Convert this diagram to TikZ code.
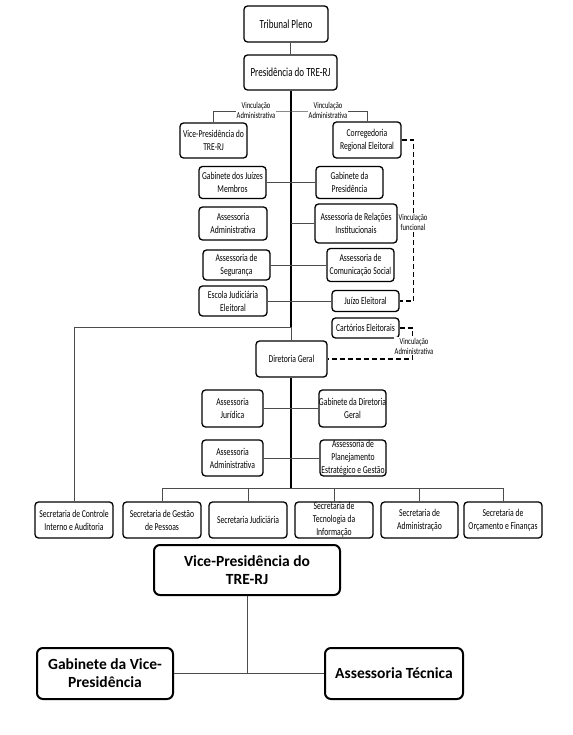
\documentclass[tikz,border=0pt]{standalone}
\usepackage{fontspec}
\setmainfont{Carlito}
\newfontfamily\narrowfont[FakeStretch=0.73]{Carlito}

\begin{document}
\begin{tikzpicture}[x=1pt,y=-1pt,
  unit/.style 2 args={draw,rounded corners=3.5pt,line width=1.3pt,align=center,inner sep=0pt,
    minimum width=#1,minimum height=#2,font=\narrowfont\fontsize{10.5}{13}\selectfont},
  headunit/.style 2 args={unit={#1}{#2},font=\narrowfont\fontsize{12.4}{15}\selectfont},
  bigunit/.style 2 args={unit={#1}{#2},rounded corners=6pt,line width=2pt,
    font=\bfseries\fontsize{15.5}{18}\selectfont},
  link/.style={gray!60!black,line width=0.7pt},
  spine/.style={line width=2pt},
  relation/.style={line width=1.6pt,dash pattern=on 5pt off 3pt},
  note/.style={fill=white,inner sep=1pt,align=center,font=\narrowfont\fontsize{9}{10}\selectfont}]
  \useasboundingbox (0,0) rectangle (572,735);

  % Presidencia
  \node[headunit={84pt}{36pt}] (pleno) at (286,24) {Tribunal Pleno};
  \node[headunit={93pt}{35pt}] (pres) at (290.5,72.5) {Presidência do TRE-RJ};
  \node[unit={67pt}{35pt}] (vpres) at (213.5,140.5) {Vice-Presidência do\\TRE-RJ};
  \node[unit={68pt}{36pt}] (corr) at (367,140) {Corregedoria\\Regional Eleitoral};

  \node[unit={67pt}{32pt}] (gjm) at (232.5,182.5) {Gabinete dos Juízes\\Membros};
  \node[unit={67pt}{32pt}] (gpres) at (349.5,182.5) {Gabinete da\\Presidência};
  \node[unit={68pt}{33pt}] (asadm) at (233,223.5) {Assessoria\\Administrativa};
  \node[unit={82pt}{39pt}] (arins) at (356,223.5) {Assessoria de Relações\\Institucionais};
  \node[unit={67pt}{30pt}] (aseg) at (236.5,265) {Assessoria de\\Segurança};
  \node[unit={67pt}{33pt}] (acom) at (360.5,265) {Assessoria de\\Comunicação Social};
  \node[unit={68pt}{30pt}] (ejud) at (233,301) {Escola Judiciária\\Eleitoral};
  \node[unit={67pt}{21pt}] (jelei) at (365.5,301) {Juízo Eleitoral};
  \node[unit={67pt}{20pt}] (celei) at (365.5,328) {Cartórios Eleitorais};

  % Diretoria Geral
  \node[unit={71pt}{36pt}] (dger) at (291.5,359) {Diretoria Geral};
  \node[unit={61pt}{37pt}] (ajur) at (232.5,408.5) {Assessoria\\Jurídica};
  \node[unit={67pt}{37pt}] (gdger) at (352.5,408.5) {Gabinete da Diretoria\\Geral};
  \node[unit={61pt}{36pt}] (asadmb) at (232.5,458) {Assessoria\\Administrativa};
  \node[unit={66pt}{36pt}] (aplan) at (353,458) {Assessoria de\\Planejamento\\Estratégico e Gestão};

  % Secretarias
  \node[unit={78pt}{36pt}] (sci) at (74,520) {Secretaria de Controle\\Interno e Auditoria};
  \node[unit={78pt}{36pt}] (sgp) at (162,520) {Secretaria de Gestão\\de Pessoas};
  \node[unit={78pt}{36pt}] (sjud) at (248,520) {Secretaria Judiciária};
  \node[unit={78pt}{36pt}] (sti) at (334,520) {Secretaria de\\Tecnologia da\\Informação};
  \node[unit={77pt}{36pt}] (sadm) at (419.5,520) {Secretaria de\\Administração};
  \node[unit={78pt}{36pt}] (sof) at (503,520) {Secretaria de\\Orçamento e Finanças};

  % Vice-Presidencia
  \node[bigunit={186pt}{50pt}] (vpbig) at (247,570) {Vice-Presidência do\\TRE-RJ};
  \node[bigunit={136pt}{51pt}] (gvp) at (105,673.5) {Gabinete da Vice-\\Presidência};
  \node[bigunit={138pt}{51pt}] (atec) at (394,673.5) {Assessoria Técnica};

  \coordinate (vinc) at (291,111);
  \coordinate (fork) at (291,327);
  \coordinate (bus) at (291,488);
  \coordinate (vpjoin) at (247,674);

  \draw[link] (pleno.south -| pres) -- (pres.north);
  \draw[spine] (pres.south -| fork) -- (fork);
  \draw[link] (fork) -- (fork |- dger.north);
  \draw[link] (fork) -| (sci.north);
  \draw[spine] (dger.south -| bus) -- (bus);
  \draw[link] (sgp.north |- bus) -- (sof.north |- bus);
  \foreach \sec in {sgp,sjud,sti,sadm,sof}
    \draw[link] (\sec.north) -- (\sec.north |- bus);

  \draw[link] (vpres.north) |- (vinc) -| (corr.north);
  \node[note] (vincl) at (256,110) {Vinculação\\Administrativa};
  \node[note] (vincr) at (328,110) {Vinculação\\Administrativa};

  \draw[link] (gjm.east) -- (gpres.west);
  \draw[link] (arins.west) -- (arins.west -| fork);
  \draw[link] (aseg.east) -- (acom.west);
  \draw[link] (ejud.east) -- (jelei.west);
  \draw[link] (ajur.east) -- (gdger.west);
  \draw[link] (asadmb.east) -- (aplan.west);

  \draw[relation] (corr.east) -- ++(12,0) |- (jelei.east);
  \node[note] (vfunc) at (413,222) {Vinculação\\funcional};
  \draw[relation] (celei.east) -- ++(13,0) |- (dger.east);
  \node[note] (vadm) at (414,346) {Vinculação\\Administrativa};

  \draw[link] (vpbig.south) -- (vpjoin);
  \draw[link] (gvp.east) -- (atec.west);
\end{tikzpicture}
\end{document}
